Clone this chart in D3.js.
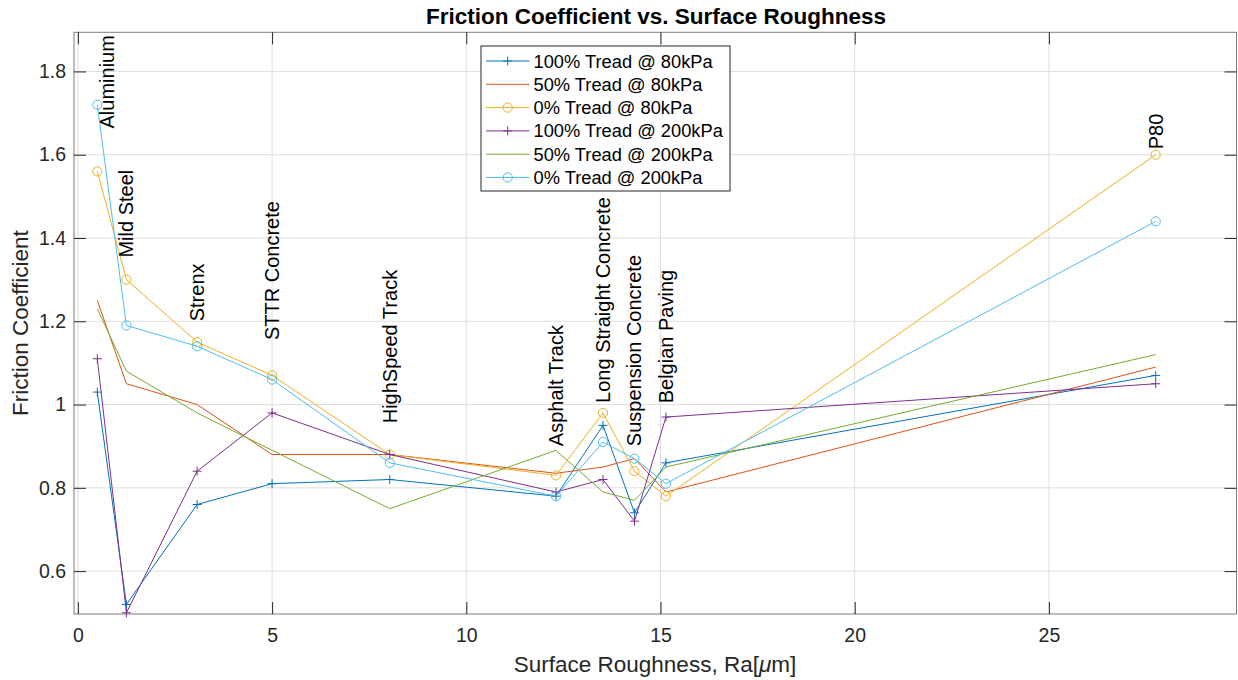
<!DOCTYPE html>
<html><head><meta charset="utf-8">
<script src="https://cdn.jsdelivr.net/npm/d3@7"></script>
<style>
body{margin:0;background:#fff}
text{font-family:"Liberation Sans",Arial,Helvetica,sans-serif;fill:#262626}
</style>
</head><body>
<svg id="chart" width="1238" height="680"></svg>
<script>
// ---------- data ----------
const surfaces = ["Aluminium","Mild Steel","Strenx","STTR Concrete","HighSpeed Track","Asphalt Track","Long Straight Concrete","Suspension Concrete","Belgian Paving","P80"];
const roughness = [0.50, 1.25, 3.07, 5.00, 8.03, 12.31, 13.52, 14.33, 15.14, 27.75];
const labelX = [0.76, 1.25, 3.07, 5.00, 8.03, 12.31, 13.52, 14.33, 15.14, 27.75];
const labelY = [1.663, 1.353, 1.20, 1.155, 0.955, 0.90, 1.004, 0.90, 1.003, 1.613];

const seriesNames = ["100% Tread @ 80kPa","50% Tread @ 80kPa","0% Tread @ 80kPa","100% Tread @ 200kPa","50% Tread @ 200kPa","0% Tread @ 200kPa"];
const tread100_80  = [1.03, 0.52, 0.76, 0.81, 0.82, 0.78, 0.95, 0.74, 0.86, 1.07];
const tread50_80   = [1.25, 1.05, 1.00, 0.88, 0.88, 0.835, 0.85, 0.87, 0.79, 1.09];
const tread0_80    = [1.56, 1.30, 1.15, 1.07, 0.88, 0.83, 0.98, 0.84, 0.78, 1.60];
const tread100_200 = [1.11, 0.50, 0.84, 0.98, 0.88, 0.79, 0.82, 0.72, 0.97, 1.05];
const tread50_200  = [1.23, 1.08, 0.98, 0.89, 0.75, 0.89, 0.79, 0.77, 0.85, 1.12];
const tread0_200   = [1.72, 1.19, 1.14, 1.06, 0.86, 0.78, 0.91, 0.87, 0.81, 1.44];
const seriesColors = ["#0072BD","#D95319","#EDB120","#7E2F8E","#77AC30","#4DBEEE"];
const seriesMarkers = ["plus","none","circle","plus","none","circle"];

const xTicks = [0,5,10,15,20,25];
const yTicks = [0.6,0.8,1.0,1.2,1.4,1.6,1.8];
const xDomain = [-0.1, 29.83];
const yDomain = [0.497, 1.894];

// ---------- layout ----------
const svg = d3.select("#chart");
const L = 74, R = 1236.5, T = 32.3, B = 614;
const x = d3.scaleLinear().domain(xDomain).range([L, R]);
const y = d3.scaleLinear().domain(yDomain).range([B, T]);

const allSeries = [tread100_80, tread50_80, tread0_80, tread100_200, tread50_200, tread0_200];

// grid
const grid = svg.append("g").attr("stroke","#dfdfdf").attr("stroke-width",1);
xTicks.forEach(t => grid.append("line").attr("x1",x(t)).attr("x2",x(t)).attr("y1",T).attr("y2",B));
yTicks.forEach(t => grid.append("line").attr("x1",L).attr("x2",R).attr("y1",y(t)).attr("y2",y(t)));

// axes
const tk = 12;
const fmtY = d => d3.format("")(+d.toFixed(1));
const gx = svg.append("g").attr("transform",`translate(0,${B})`)
  .call(d3.axisBottom(x).tickValues(xTicks).tickSizeInner(-tk).tickSizeOuter(0).tickPadding(14).tickFormat(d3.format("d")));
const gxt = svg.append("g").attr("transform",`translate(0,${T})`)
  .call(d3.axisTop(x).tickValues(xTicks).tickSizeInner(-tk).tickSizeOuter(0).tickFormat(""));
const gy = svg.append("g").attr("transform",`translate(${L},0)`)
  .call(d3.axisLeft(y).tickValues(yTicks).tickSizeInner(-tk).tickSizeOuter(0).tickPadding(8).tickFormat(fmtY));
const gyr = svg.append("g").attr("transform",`translate(${R},0)`)
  .call(d3.axisRight(y).tickValues(yTicks).tickSizeInner(-tk).tickSizeOuter(0).tickFormat(""));
[gx,gxt,gy,gyr].forEach(g=>{
  g.select(".domain").remove();
  g.selectAll(".tick line").attr("stroke","#262626");
  g.selectAll(".tick text").attr("fill","#262626").style("font-size","19.5px").style("font-family",'"Liberation Sans",Arial,sans-serif');
});

// box
svg.append("rect").attr("x",L).attr("y",T).attr("width",R-L).attr("height",B-T)
  .attr("fill","none").attr("stroke","#262626").attr("stroke-width",1).attr("opacity",0.6);

// series
function drawMarker(g, type, cx, cy, color){
  if(type==="plus"){
    const h=4.5;
    g.append("path").attr("d",`M${cx-h},${cy}H${cx+h}M${cx},${cy-h}V${cy+h}`)
      .attr("stroke",color).attr("stroke-width",1).attr("fill","none");
  } else if(type==="circle"){
    g.append("circle").attr("cx",cx).attr("cy",cy).attr("r",4.6)
      .attr("stroke",color).attr("stroke-width",1).attr("fill","none");
  }
}
const line = d3.line().x((d,i)=>x(roughness[i])).y(d=>y(d));
allSeries.forEach((vals,si)=>{
  const g = svg.append("g");
  g.append("path").attr("d",line(vals)).attr("fill","none")
    .attr("stroke",seriesColors[si]).attr("stroke-width",1);
  vals.forEach((v,i)=>drawMarker(g, seriesMarkers[si], x(roughness[i]), y(v), seriesColors[si]));
});

// surface labels
surfaces.forEach((s,i)=>{
  svg.append("text")
    .attr("transform",`translate(${x(labelX[i])},${y(labelY[i])}) rotate(-90)`)
    .attr("text-anchor","start").attr("dominant-baseline","central")
    .style("font-size","20px").style("fill","#000").text(s);
});

// legend
const lg = svg.append("g");
const lgX = 481, lgY = 46, lgW = 249, lgH = 145;
lg.append("rect").attr("x",lgX).attr("y",lgY).attr("width",lgW).attr("height",lgH)
  .attr("fill","#fff").attr("stroke","#262626").attr("stroke-width",1);
seriesNames.forEach((n,i)=>{
  const cy = 61 + i*23.3;
  lg.append("line").attr("x1",486).attr("x2",529.5).attr("y1",cy).attr("y2",cy)
    .attr("stroke",seriesColors[i]).attr("stroke-width",1);
  drawMarker(lg, seriesMarkers[i], 507.7, cy, seriesColors[i]);
  lg.append("text").attr("x",533.5).attr("y",cy).attr("dominant-baseline","central")
    .style("font-size","18.3px").style("fill","#000").text(n);
});

// titles
svg.append("text").attr("x",656).attr("y",23.5).attr("text-anchor","middle")
  .style("font-size","22.5px").style("font-weight","bold").style("fill","#000")
  .text("Friction Coefficient vs. Surface Roughness");
const xl = svg.append("text").attr("x",655).attr("y",672).attr("text-anchor","middle")
  .style("font-size","22.5px");
xl.append("tspan").text("Surface Roughness, Ra[");
xl.append("tspan").style("font-style","italic").text("\u03BC");
xl.append("tspan").text("m]");
svg.append("text").attr("transform",`translate(28,${(T+B)/2}) rotate(-90)`)
  .attr("text-anchor","middle").style("font-size","22.5px").text("Friction Coefficient");
</script>
</body></html>
